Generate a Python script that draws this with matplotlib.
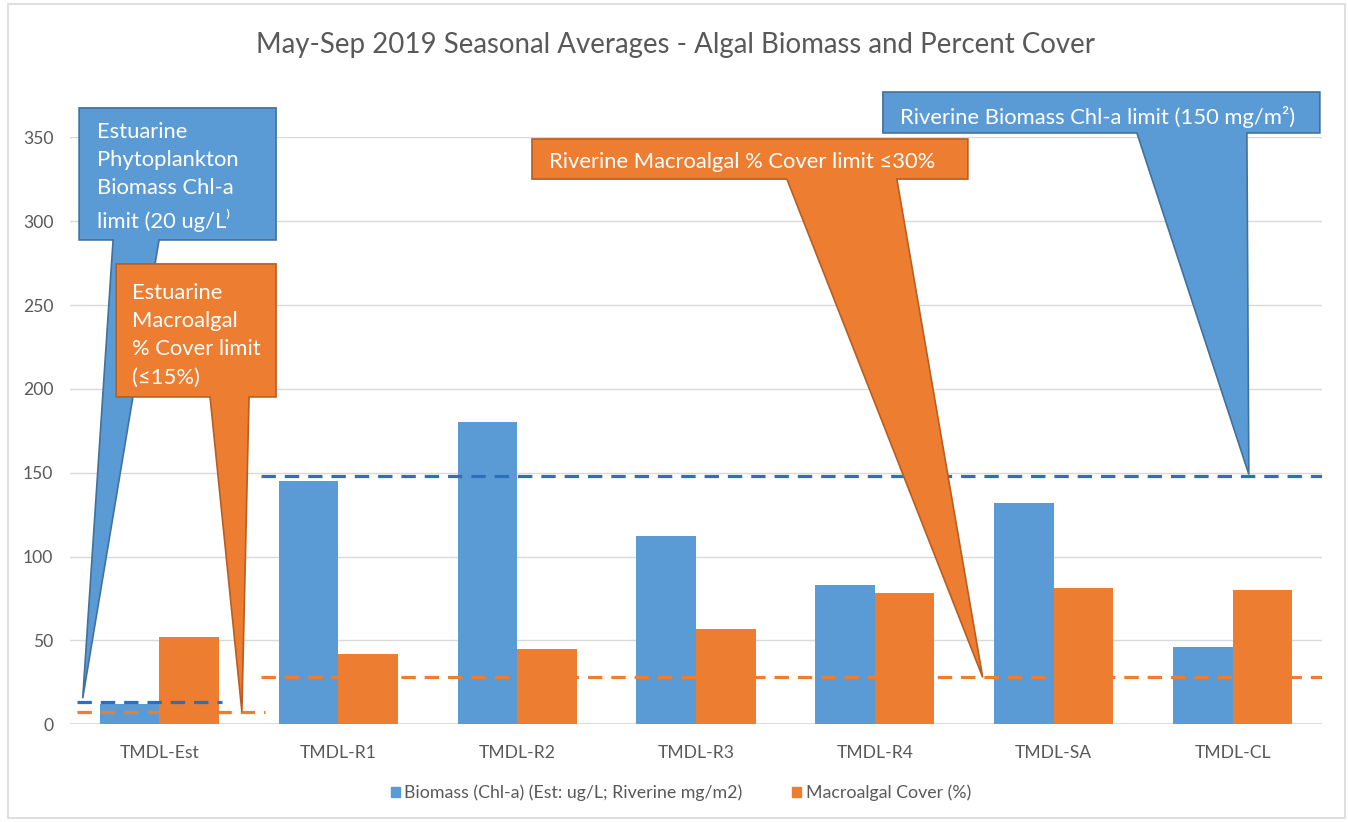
import matplotlib
matplotlib.use('Agg')
import matplotlib.pyplot as plt
from matplotlib.patches import Polygon, Rectangle

plt.rcParams['font.family'] = ['Lato', 'DejaVu Sans']

# ---- data ----
categories = ['TMDL-Est', 'TMDL-R1', 'TMDL-R2', 'TMDL-R3', 'TMDL-R4', 'TMDL-SA', 'TMDL-CL']
biomass = [12, 145, 180, 112, 83, 132, 46]
cover = [52, 42, 45, 57, 78, 81, 80]
yticks = [0, 50, 100, 150, 200, 250, 300, 350]
series_labels = ['Biomass (Chl-a) (Est: ug/L; Riverine mg/m2)', 'Macroalgal Cover (%)']
est_biomass_limit = 13
est_cover_limit = 7.5
riv_biomass_limit = 148
riv_cover_limit = 28
title = 'May-Sep 2019 Seasonal Averages - Algal Biomass and Percent Cover'
callout_texts = [
    'Estuarine\nPhytoplankton\nBiomass Chl-a\nlimit (20 ug/L\u207e',
    'Estuarine\nMacroalgal\n% Cover limit\n(\u226415%)',
    'Riverine Macroalgal % Cover limit \u226430%',
    'Riverine Biomass Chl-a limit (150 mg/m\u00b2)',
]

BLUE = '#5B9BD5'
ORANGE = '#ED7D31'
BLUE_EDGE = '#41719C'
ORANGE_EDGE = '#B85E22'
BLUE_LINE = '#2F6EBA'
GRAY = '#595959'

W, H = 1348, 822
fig = plt.figure(figsize=(W / 100, H / 100), dpi=100)
ax = fig.add_axes([70 / W, (H - 724.3) / H, (1322 - 70) / W, (724.3 - 137.3) / H])

n = len(categories)
x = list(range(n))
bw = 0.333
ax.bar([i - bw / 2 for i in x], biomass, width=bw, color=BLUE, zorder=2, label=series_labels[0])
ax.bar([i + bw / 2 for i in x], cover, width=bw, color=ORANGE, zorder=2, label=series_labels[1])

ax.set_xlim(-0.5, n - 0.5)
ax.set_ylim(0, 350)
ax.set_yticks(yticks)
ax.set_yticklabels([str(v) for v in yticks])
ax.set_xticks(x)
ax.set_xticklabels(categories)
ax.tick_params(axis='both', length=0, colors=GRAY, labelsize=12.6)
ax.tick_params(axis='y', pad=12)
ax.tick_params(axis='x', pad=15)
for s in ax.spines.values():
    s.set_visible(False)
ax.grid(axis='y', color='#D9D9D9', linewidth=1, zorder=0)
ax.set_axisbelow(True)
ax.axhline(0, color='#D9D9D9', linewidth=1.2, zorder=1)

# limit lines
dash = dict(linestyle=(0, (4.5, 2.8)), linewidth=2.3, zorder=3)
ax.plot([-0.46, 0.35], [est_biomass_limit] * 2, color=BLUE_LINE, **dash)
ax.plot([-0.46, 0.59], [est_cover_limit] * 2, color=ORANGE, **dash)
ax.plot([0.57, n - 0.5], [riv_biomass_limit] * 2, color=BLUE_LINE, **dash)
ax.plot([0.57, n - 0.5], [riv_cover_limit] * 2, color=ORANGE, **dash)


def callout(x0, x1, ytop, ybot, tl, tr, tip, fc, ec, z):
    pts = [(x0, ytop), (x1, ytop), (x1, ybot), (tr, ybot), tip, (tl, ybot), (x0, ybot)]
    p = Polygon(pts, closed=True, facecolor=fc, edgecolor=ec, linewidth=1.2,
                clip_on=False, zorder=z)
    ax.add_patch(p)


CFS = 15.8
# Estuarine biomass callout
callout(-0.449, 0.652, 367.5, 288.8, -0.259, -0.002, (-0.429, est_biomass_limit + 2.5),
        BLUE, BLUE_EDGE, 5)
ax.text(-0.349, 326.5, callout_texts[0], color='white', fontsize=CFS, ha='left', va='center',
        linespacing=1.52, zorder=6, clip_on=False)
# Estuarine cover callout
callout(-0.242, 0.652, 274.5, 195.2, 0.283, 0.501, (0.461, est_cover_limit),
        ORANGE, ORANGE_EDGE, 7)
ax.text(-0.153, 232.0, callout_texts[1], color='white', fontsize=CFS, ha='left', va='center',
        linespacing=1.52, zorder=8, clip_on=False)
# Riverine cover callout
callout(2.083, 4.520, 349.0, 325.1, 3.508, 4.123, (4.603, riv_cover_limit),
        ORANGE, ORANGE_EDGE, 9)
ax.text(2.178, 335.5, callout_texts[2], color='white', fontsize=CFS, ha='left', va='center',
        zorder=10, clip_on=False)
# Riverine biomass callout
callout(4.045, 6.488, 377.0, 352.6, 5.465, 6.080, (6.091, riv_biomass_limit + 1),
        BLUE, BLUE_EDGE, 11)
ax.text(4.139, 362.0, callout_texts[3], color='white', fontsize=CFS, ha='left', va='center',
        zorder=12, clip_on=False)

fig.text(675 / W, (H - 45) / H, title, ha='center', va='center', fontsize=19.9, color=GRAY)

handles = [Rectangle((0, 0), 1, 1, color=BLUE), Rectangle((0, 0), 1, 1, color=ORANGE)]
fig.legend(handles, series_labels, loc='center', bbox_to_anchor=(681 / W, (H - 793) / H),
           ncol=2, frameon=False, fontsize=12.8, labelcolor=GRAY, handlelength=0.5,
           handleheight=0.5, handletextpad=0.25, columnspacing=2.8, borderpad=0)

fig.patches.append(Rectangle((8 / W, 4 / H), (1345 - 8) / W, (818 - 4) / H,
                             transform=fig.transFigure, fill=False, edgecolor='#D9D9D9',
                             linewidth=1.2))

fig.savefig('out.png', dpi=100, facecolor='white')
